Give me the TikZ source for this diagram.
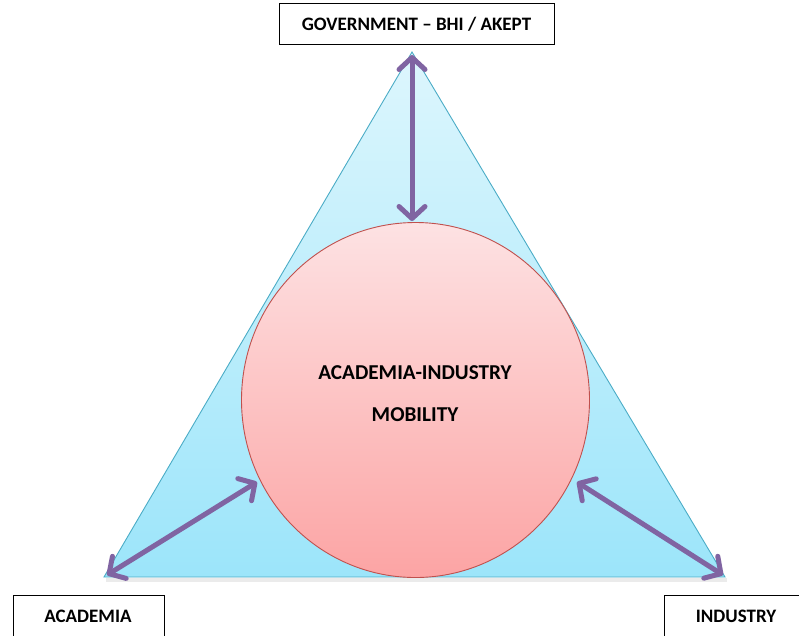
\documentclass[tikz,border=0pt]{standalone}
\usepackage{fontspec}
\setmainfont{Carlito}
\usetikzlibrary{arrows.meta,shapes.geometric}
\definecolor{triline}{HTML}{4BACC6}
\definecolor{tritop}{HTML}{DDF6FD}
\definecolor{tribot}{HTML}{9CE5FA}
\definecolor{circline}{HTML}{C0504D}
\definecolor{circtop}{HTML}{FDE2E3}
\definecolor{circbot}{HTML}{FCA4A4}
\definecolor{arrowc}{HTML}{8064A2}
\tikzset{
  labelbox/.style={draw=black,line width=0.9pt,fill=white,inner sep=0pt},
  labeltext/.style={font=\bfseries\fontsize{19}{22}\selectfont},
  link/.style={draw=arrowc,line width=5pt,line cap=round,{Straight Barb[length=12pt,width=26pt,round]}-{Straight Barb[length=12pt,width=26pt,round]}},
  inner/.style={font=\bfseries\fontsize{21.2}{24}\selectfont,align=center}
}
\begin{document}
\begin{tikzpicture}[x=1pt,y=-1pt]
\useasboundingbox (0,0) rectangle (799,635);
% triangle
\fill[black,opacity=0.08] (106,578) -- (727,578) -- (727,582) -- (106,582) -- cycle;
\path[draw=triline,line width=0.9pt,top color=tritop,bottom color=tribot]
  (412,52) coordinate (apex) -- (725,577) coordinate (br) -- (104,577) coordinate (bl) -- cycle;
% circle
\node[ellipse,minimum width=348pt,minimum height=355pt,draw=circline,line width=0.9pt,top color=circtop,bottom color=circbot,inner sep=0pt] (circ) at (415.5,400) {};
\node[inner,anchor=base] (t1) at (415,379) {ACADEMIA-INDUSTRY};
\node[inner,anchor=base] (t2) at (415,421) {MOBILITY};
% labels
\node[labelbox,labeltext,minimum width=275pt,minimum height=41pt] (gov) at (416.5,24) {GOVERNMENT – BHI / AKEPT};
\node[labelbox,minimum width=151pt,minimum height=60pt,anchor=north west] (acad) at (13,595) {};
\node[labeltext,anchor=base] (acadt) at (88,622) {ACADEMIA};
\node[labelbox,minimum width=160pt,minimum height=60pt,anchor=north west] (ind) at (664,595) {};
\node[labeltext,anchor=base] (indt) at (736,622) {INDUSTRY};
% arrows
\coordinate (a1) at (412,55);
\coordinate (a2) at (412,221);
\coordinate (l1) at (107,575);
\coordinate (l2) at (257,482);
\coordinate (r1) at (577,482);
\coordinate (r2) at (723,575);
\draw[link] (a1) -- (a2);
\draw[link] (l1) -- (l2);
\draw[link] (r1) -- (r2);
\end{tikzpicture}
\end{document}
